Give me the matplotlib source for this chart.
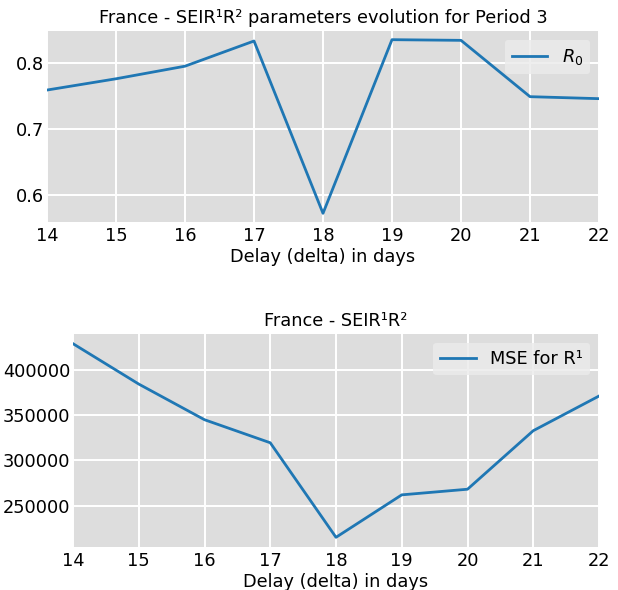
import matplotlib
matplotlib.use("Agg")
import matplotlib.pyplot as plt

delays = [14, 15, 16, 17, 18, 19, 20, 21, 22]
r0_values = [0.759, 0.776, 0.795, 0.833, 0.573, 0.835, 0.834, 0.749, 0.746]
mse_values = [428700, 384200, 344900, 319500, 215300, 262100, 268300, 332800, 371000]

plt.rcParams['font.family'] = ['DejaVu Sans']
fig = plt.figure(figsize=(6.18, 5.90), dpi=100)
W, H = 618, 590
FS = 12.8

def mkax(l, r, t, b):
    return fig.add_axes([l / W, 1 - b / H, (r - l) / W, (b - t) / H])

ax1 = mkax(47, 599, 31, 222)
ax2 = mkax(73, 599, 334, 547)

for ax in (ax1, ax2):
    ax.set_facecolor('#dddddd')
    for s in ax.spines.values():
        s.set_visible(False)
    ax.grid(True, color='white', linewidth=1.4)
    ax.set_axisbelow(True)
    ax.tick_params(axis='x', length=0, labelsize=FS, pad=3.5)
    ax.tick_params(axis='y', length=0, labelsize=FS, pad=2)
    ax.set_xlim(14, 22)
    ax.set_xticks(delays)
    ax.set_xlabel('Delay (delta) in days', fontsize=FS, labelpad=2)

ax1.plot(delays, r0_values, color='#1f77b4', lw=2, label='$R_0$')
ax1.set_title('France - SEIR¹R² parameters evolution for Period 3', fontsize=FS, pad=6)
ax1.set_yticks([0.6, 0.7, 0.8])
ax1.legend(loc='upper right', fontsize=FS, facecolor='#ebebeb', edgecolor='none', framealpha=0.8)

ax2.plot(delays, mse_values, color='#1f77b4', lw=2, label='MSE for R¹')
ax2.set_title('France - SEIR¹R²', fontsize=FS, pad=6)
ax2.set_yticks([250000, 300000, 350000, 400000])
ax2.set_yticklabels(['250000', '300000', '350000', '400000'])
ax2.legend(loc='upper right', fontsize=FS, facecolor='#ebebeb', edgecolor='none', framealpha=0.8)

fig.savefig('out.png', dpi=100, facecolor='white')
